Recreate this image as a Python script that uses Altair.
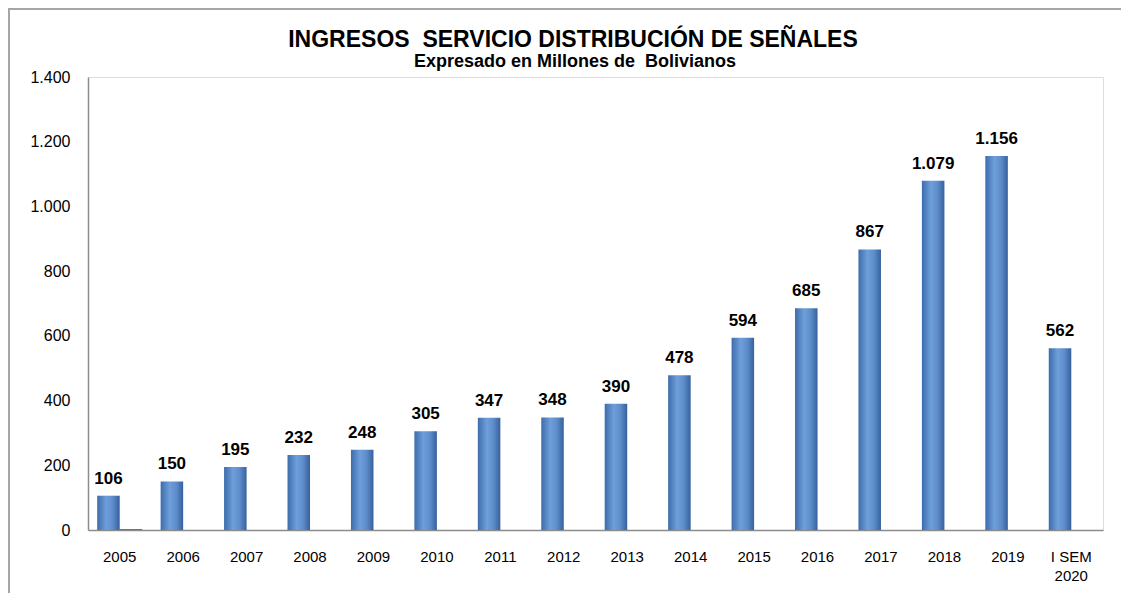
import altair as alt
import pandas as pd

years = ["2005", "2006", "2007", "2008", "2009", "2010", "2011", "2012",
         "2013", "2014", "2015", "2016", "2017", "2018", "2019", "I SEM 2020"]
ingresos = [106, 150, 195, 232, 248, 305, 347, 348, 390, 478, 594, 685,
            867, 1079, 1156, 562]
serie2 = [3, 0, 0, 0, 0, 0, 0, 0, 0, 0, 0, 0, 0, 0, 0, 0]
series_names = ["Ingresos", "Serie 2"]
y_ticks = [0, 200, 400, 600, 800, 1000, 1200, 1400]
title_text = "INGRESOS \u00a0SERVICIO DISTRIBUCIÓN DE SEÑALES"
subtitle_text = "Expresado en Millones de \u00a0Bolivianos"

rows = []
for yr, a, b in zip(years, ingresos, serie2):
    rows.append({"year": yr, "serie": series_names[0], "v": a})
    rows.append({"year": yr, "serie": series_names[1], "v": b})
df = pd.DataFrame(rows)

FONT = "Liberation Sans"
W, H = 1015, 453

x_enc = alt.X("year:N", sort=years,
              scale=alt.Scale(paddingInner=0.29, paddingOuter=0.145),
              axis=alt.Axis(title=None, labelAngle=0, ticks=False,
                            domainColor="#8c8c8c", domainWidth=1.5,
                            labelFont=FONT, labelFontSize=15,
                            labelColor="#000000", labelPadding=19,
                            labelLineHeight=19,
                            labelExpr="datum.label == 'I SEM 2020' ? ['I SEM', '2020'] : datum.label"))
xo_enc = alt.XOffset("serie:N", sort=series_names,
                     scale=alt.Scale(domain=series_names, paddingInner=0, paddingOuter=0))
y_enc = alt.Y("v:Q",
              scale=alt.Scale(domain=[0, 1400], nice=False),
              axis=alt.Axis(title=None, values=y_ticks, grid=False, ticks=False,
                            domainColor="#8c8c8c", domainWidth=1.5,
                            labelFont=FONT, labelFontSize=16,
                            labelColor="#000000", labelPadding=18,
                            labelExpr="replace(format(datum.value, ','), ',', '.')"))

grad = alt.Gradient(
    gradient="linear", x1=0, x2=1, y1=0, y2=0,
    stops=[alt.GradientStop(offset=0, color="#3d6cab"),
           alt.GradientStop(offset=0.4, color="#6f9fda"),
           alt.GradientStop(offset=0.7, color="#5d8ccb"),
           alt.GradientStop(offset=1, color="#36619b")])

base = alt.Chart(df)

blue = base.transform_filter(alt.datum.serie == "Ingresos").mark_bar(
    color=grad).encode(x=x_enc, xOffset=xo_enc, y=y_enc)

red = base.transform_filter(alt.datum.serie == "Serie 2").mark_bar(
    color="#c0504d").encode(x=x_enc, xOffset=xo_enc, y=y_enc)

labels = base.transform_filter(alt.datum.serie == "Ingresos").transform_calculate(
    lab="replace(format(datum.v, ','), ',', '.')"
).mark_text(font=FONT, fontSize=17, fontWeight="bold", color="#000000",
            baseline="bottom", dy=-8).encode(
    x=x_enc, xOffset=xo_enc, y=y_enc, text="lab:N")

one = pd.DataFrame({"a": [0]})
title = alt.Chart(one).mark_text(
    font=FONT, fontSize=23, fontWeight="bold", color="#000000",
    align="center", baseline="alphabetic").encode(
    x=alt.value(485), y=alt.value(-30), text=alt.value(title_text))
subtitle = alt.Chart(one).mark_text(
    font=FONT, fontSize=18, fontWeight="bold", color="#000000",
    align="center", baseline="alphabetic").encode(
    x=alt.value(487), y=alt.value(-10), text=alt.value(subtitle_text))

border_top = alt.Chart(one).mark_rule(
    color="#a6a6a6", strokeWidth=2).encode(
    x=alt.value(-80), x2=alt.value(W + 30), y=alt.value(-68))
border_left = alt.Chart(one).mark_rule(
    color="#a6a6a6", strokeWidth=2).encode(
    x=alt.value(-79), y=alt.value(-69), y2=alt.value(H + 80))

chart = alt.layer(blue, red, labels, title, subtitle, border_top, border_left).properties(
    width=W, height=H,
    autosize=alt.AutoSizeParams(type="none"),
    padding={"left": 80, "top": 69, "right": 18, "bottom": 63},
).configure_view(stroke=None).configure(background="#ffffff")

chart.save("out.html", embed_options={"renderer": "svg", "actions": False})
